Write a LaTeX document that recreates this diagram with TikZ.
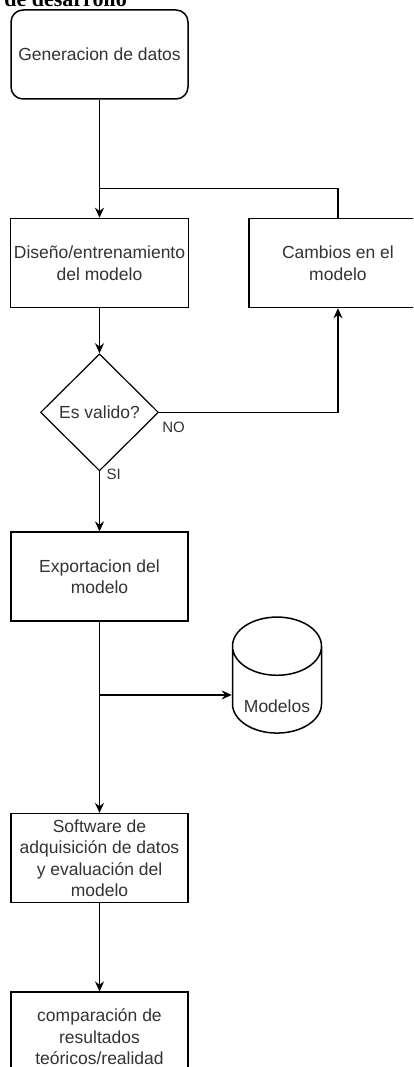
\documentclass[tikz,border=0pt]{standalone}
\usepackage{fontspec}
\setmainfont{Liberation Sans}
\newfontfamily\titlefont{Liberation Serif}
\usetikzlibrary{arrows.meta, positioning, shapes.geometric, calc}

\begin{document}
\begin{tikzpicture}[
    x=1pt, y=-1pt,
    font=\fontsize{17.5}{21.5}\selectfont,
    node distance=1.0cm and 1.0cm,
    % Styles
    process/.style={
        draw, fill=white, align=center, text=black!80,
        minimum width=177pt, minimum height=89pt, line width=1.5pt
    },
    startbox/.style={process, rounded corners=12pt},
    decision/.style={
        draw, diamond, align=center, text=black!80, inner sep=0pt,
        minimum width=118pt, minimum height=117pt, line width=1.2pt
    },
    storage/.style={
        draw, cylinder, shape border rotate=90, aspect=0.88,
        align=center, text=black!80, inner sep=0pt,
        minimum width=89pt, minimum height=116pt, line width=1.5pt
    },
    arrow/.style={-{Stealth[length=10pt, width=9pt]}, line width=1.5pt},
    line/.style={line width=1.5pt},
    tag/.style={font=\fontsize{15}{18}\selectfont, text=black!80, inner sep=1pt}
]
    \useasboundingbox (0,0) rectangle (413,1067);
    \clip (0,0) rectangle (413,1067);

    % --- Title (cut at the top) ---
    \node[anchor=base east, inner sep=0pt, font=\titlefont\bfseries\fontsize{22}{24}\selectfont] (title) at (127,7) {de desarrollo};

    % --- Main flow ---
    \node[startbox] (gen) at (99.5,54.5) {Generacion de datos};
    \node[process, below=118pt of gen] (design) {Diseño/entrenamiento\\del modelo};
    \node[process, right=59pt of design, minimum width=178pt] (change) {Cambios en el\\modelo};
    \node[decision, below=45pt of design] (valid) {Es valido?};
    \node[process, below=60pt of valid] (export) {Exportacion del\\modelo};
    \node[storage] (db) at (277,690) {\smash{\raisebox{-22pt}{Modelos}}};
    \node[process, below=191pt of export] (soft) {Software de\\adquisición de datos\\y evaluación del\\modelo};
    \node[process, below=88pt of soft] (comp) {comparación de\\resultados\\teóricos/realidad};

    % --- Connections ---
    \coordinate (join) at ($(gen.south)+(0,89)$);
    \coordinate (split) at ($(export.south)+(0,73)$);

    \draw[arrow] (gen) -- (design);
    \draw[line] (change.north) |- (join);
    \draw[arrow] (design) -- (valid);

    % Decision
    \draw[arrow] (valid.east) -| (change.south);
    \node[tag, anchor=north west] (no) at ($(valid.east)+(2,8)$) {NO};
    \draw[arrow] (valid.south) -- (export.north);
    \node[tag, anchor=north west] (si) at ($(valid.south)+(6,-4)$) {SI};

    % Export and storage
    \draw[arrow] (export) -- (soft);
    \draw[arrow] (split) -- (split -| db.west);
    \draw[arrow] (soft) -- (comp);

\end{tikzpicture}
\end{document}
